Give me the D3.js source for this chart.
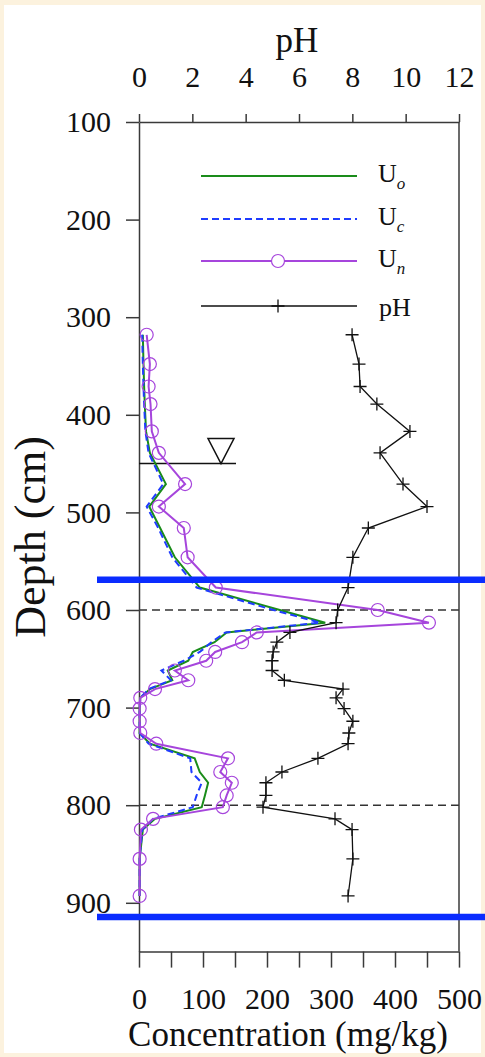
<!DOCTYPE html>
<html>
<head>
<meta charset="utf-8">
<script src="https://cdn.jsdelivr.net/npm/d3@7/dist/d3.min.js"></script>
<style>
  html, body { margin: 0; padding: 0; background: #fcf2de; }
  svg { display: block; }
  text { font-family: "Liberation Serif", "Times New Roman", serif; fill: #111; }
</style>
</head>
<body>
<svg id="chart" width="485" height="1057"></svg>
<script>
// ---------- data ----------
const depths = [318, 348, 371, 389, 417, 439, 471, 494, 516, 546, 577, 600, 613, 623, 633, 643, 652, 662, 672, 681, 690, 701, 714, 726, 737, 752, 766, 777, 790, 802, 814, 825, 855, 893];
const Uo = [6, 7, 8, 9, 11, 17, 42, 16, 33, 56, 95, 220, 291, 137, 118, 84, 77, 45, 52, 17, 2, 1, 1, 1, 17, 87, 95, 108, 103, 98, 25, 6, 1, 1];
const Uc = [5, 6, 7, 8, 10, 15, 38, 12, 30, 52, 90, 210, 283, 135, 113, 95, 70, 35, 50, 15, 2, 1, 1, 1, 15, 80, 82, 98, 90, 84, 22, 5, 1, 1];
const Un = [12, 17, 15, 18, 20, 31, 72, 31, 70, 76, 120, 373, 453, 184, 161, 119, 105, 56, 77, 25, 2, 1, 1, 2, 27, 139, 127, 145, 137, 131, 22, 3, 1, 1];
const pH = [7.99, 8.25, 8.29, 8.92, 10.16, 9.04, 9.9, 10.8, 8.6, 8.02, 7.84, 7.45, 7.39, 5.66, 5.17, 5.03, 4.99, 4.99, 5.45, 7.65, 7.39, 7.69, 8.02, 7.87, 7.84, 6.71, 5.36, 4.76, 4.76, 4.65, 7.35, 7.99, 8.02, 7.84];

const depthTicks = [100, 200, 300, 400, 500, 600, 700, 800, 900];
const pHTicks = [0, 2, 4, 6, 8, 10, 12];
const concTicks = [0, 50, 100, 150, 200, 250, 300, 350, 400, 450, 500];
const concLabels = [0, 100, 200, 300, 400, 500];
const dashedDepths = [600, 800];
const markerDepths = [569, 914.5];
const waterTableDepth = 450;
const legendNames = ["o", "c", "n"];

// ---------- layout ----------
const svg = d3.select("#chart");
const L = 139, R = 459, T = 122, B = 951.6;
const serif = '"Liberation Serif", "Times New Roman", serif';

svg.append("rect").attr("x", 4).attr("y", 5).attr("width", 477).attr("height", 1048).attr("fill", "#fff");

const y = d3.scaleLinear().domain([100, 950]).range([T, B]);
const xc = d3.scaleLinear().domain([0, 500]).range([L, R]);
const xp = d3.scaleLinear().domain([0, 12]).range([L, R]);

const colO = "#1a8c1a", colC = "#1f3cff", colN = "#a645dc", axisCol = "#3a3a3a";

// dashed reference lines
svg.selectAll("line.ref").data(dashedDepths).enter().append("line")
  .attr("x1", L).attr("x2", R).attr("y1", d => y(d)).attr("y2", d => y(d))
  .attr("stroke", "#333").attr("stroke-width", 1.4).attr("stroke-dasharray", "8,5");

// axes
const gL = svg.append("g").attr("transform", `translate(${L},0)`)
  .call(d3.axisLeft(y).tickValues(depthTicks).tickSize(13).tickSizeOuter(0).tickPadding(15));
const gT = svg.append("g").attr("transform", `translate(0,${T})`)
  .call(d3.axisTop(xp).tickValues(pHTicks).tickSize(8).tickSizeOuter(0).tickPadding(27));
const gB = svg.append("g").attr("transform", `translate(0,${B})`)
  .call(d3.axisBottom(xc).tickValues(concTicks).tickSize(16).tickSizeOuter(0)
    .tickFormat(d => concLabels.includes(d) ? d : ""));
[gL, gT, gB].forEach(g => {
  g.attr("font-family", serif);
  g.selectAll("path.domain").attr("stroke", axisCol).attr("stroke-width", 1.5);
  g.selectAll(".tick line").attr("stroke", axisCol).attr("stroke-width", 1.5);
  g.selectAll(".tick text").style("font-family", serif)
    .style("font-size", "30px").attr("fill", "#111");
});
gB.selectAll(".tick text").attr("y", 57).attr("dy", 0);
svg.append("line").attr("x1", R).attr("x2", R).attr("y1", T).attr("y2", B)
  .attr("stroke", axisCol).attr("stroke-width", 1.5);

// titles
svg.append("text").attr("x", 297).attr("y", 52).attr("text-anchor", "middle")
  .style("font-size", "35px").text("pH");
svg.append("text").attr("x", 288).attr("y", 1046).attr("text-anchor", "middle")
  .style("font-size", "35px").text("Concentration (mg/kg)");
svg.append("text").attr("transform", "translate(45,537) rotate(-90)").attr("text-anchor", "middle")
  .style("font-size", "44px").text("Depth (cm)");

// water table
svg.append("line").attr("x1", L).attr("x2", 236).attr("y1", y(waterTableDepth)).attr("y2", y(waterTableDepth))
  .attr("stroke", "#111").attr("stroke-width", 1.5);
const wy = y(waterTableDepth);
svg.append("path").attr("d", `M208,${wy - 25}L234,${wy - 25}L221,${wy}Z`)
  .attr("fill", "none").attr("stroke", "#111").attr("stroke-width", 1.5);

// series
const idx = d3.range(depths.length);
const lineC = vals => d3.line().x(i => xc(vals[i])).y(i => y(depths[i]))(idx);

svg.append("path").attr("d", lineC(Uo)).attr("fill", "none").attr("stroke", colO).attr("stroke-width", 2);
svg.append("path").attr("d", lineC(Uc)).attr("fill", "none").attr("stroke", colC).attr("stroke-width", 2)
  .attr("stroke-dasharray", "7,4");
svg.append("path").attr("d", lineC(Un)).attr("fill", "none").attr("stroke", colN).attr("stroke-width", 2);
svg.selectAll("circle.un").data(idx).enter().append("circle")
  .attr("cx", i => xc(Un[i])).attr("cy", i => y(depths[i])).attr("r", 6.5)
  .attr("fill", "none").attr("stroke", colN).attr("stroke-width", 1.2);

const linePH = d3.line().x(i => xp(pH[i])).y(i => y(depths[i]));
svg.append("path").attr("d", linePH(idx)).attr("fill", "none").attr("stroke", "#111").attr("stroke-width", 1.3);
const plus = (x0, y0) => `M${x0 - 6.5},${y0}H${x0 + 6.5}M${x0},${y0 - 6.5}V${y0 + 6.5}`;
svg.append("path").attr("d", idx.map(i => plus(xp(pH[i]), y(depths[i]))).join(""))
  .attr("stroke", "#111").attr("stroke-width", 1.3).attr("fill", "none");

// marker lines (blue)
svg.selectAll("line.mark").data(markerDepths).enter().append("line")
  .attr("x1", 97).attr("x2", 485).attr("y1", d => y(d)).attr("y2", d => y(d))
  .attr("stroke", "#0a2cff").attr("stroke-width", 6.5);

// legend
const legY = [176, 219, 261, 306];
const legCols = [colO, colC, colN];
legendNames.forEach((n, k) => {
  const ln = svg.append("line").attr("x1", 201).attr("x2", 357).attr("y1", legY[k]).attr("y2", legY[k])
    .attr("stroke", legCols[k]).attr("stroke-width", 2);
  if (k === 1) ln.attr("stroke-dasharray", "7,4");
  if (k === 2) svg.append("circle").attr("cx", 278).attr("cy", legY[k]).attr("r", 6.5)
    .attr("fill", "#fff").attr("stroke", colN).attr("stroke-width", 1.2);
  const t = svg.append("text").attr("x", 378).attr("y", legY[k] + 6).style("font-size", "26px");
  t.append("tspan").text("U");
  t.append("tspan").attr("dy", 7).style("font-size", "17px").style("font-style", "italic").text(n);
});
svg.append("line").attr("x1", 201).attr("x2", 357).attr("y1", legY[3]).attr("y2", legY[3])
  .attr("stroke", "#111").attr("stroke-width", 1.3);
svg.append("path").attr("d", plus(278, legY[3])).attr("stroke", "#111").attr("stroke-width", 1.3);
svg.append("text").attr("x", 379).attr("y", legY[3] + 10).style("font-size", "26px").text("pH");
</script>
</body>
</html>
